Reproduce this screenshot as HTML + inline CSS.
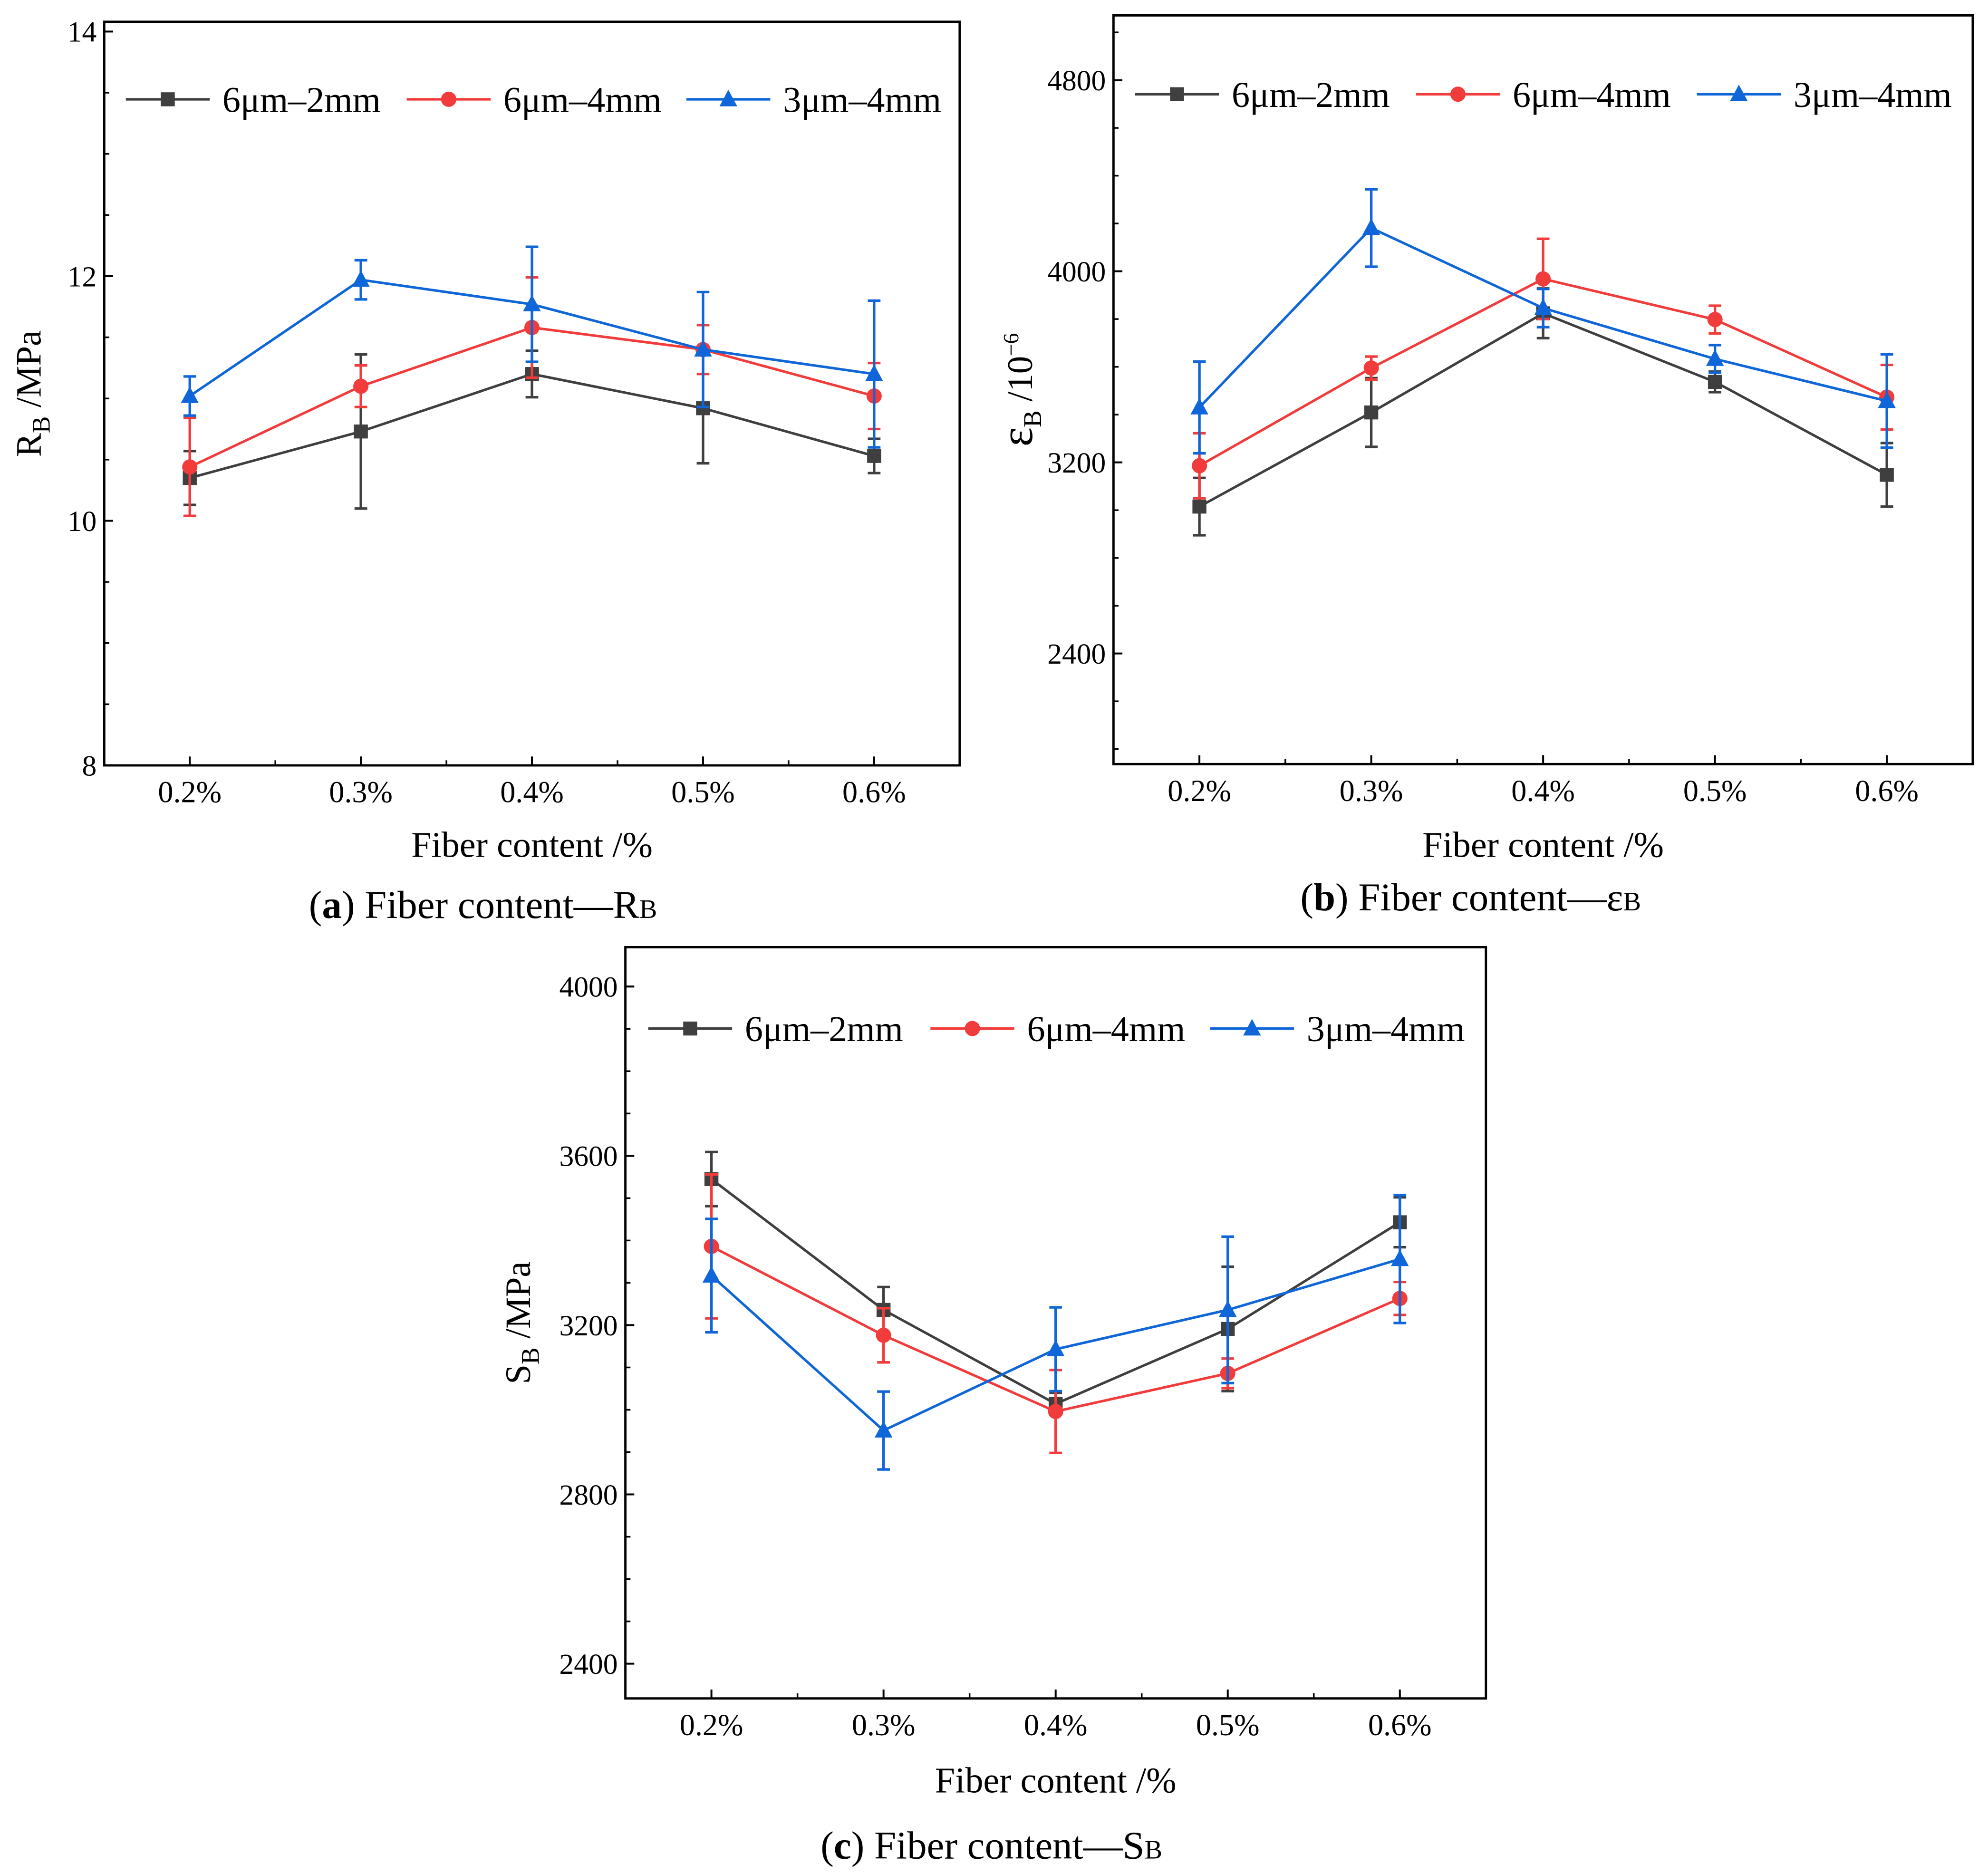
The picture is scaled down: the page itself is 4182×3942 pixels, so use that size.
<!DOCTYPE html>
<html><head><meta charset="utf-8"><style>
html,body{margin:0;padding:0;background:#fff;}
svg{display:block;font-family:"Liberation Serif",serif;}
</style></head>
<body>
<svg id="fig" width="4182" height="3942" viewBox="0 0 1564 1474" xmlns="http://www.w3.org/2000/svg">
<rect width="1564" height="1474" fill="#fff"/>
</svg>
<script>
const categories = ["0.2%","0.3%","0.4%","0.5%","0.6%"];
const seriesNames = ["6μm–2mm","6μm–4mm","3μm–4mm"];
const colors = ["#3f3f3f","#f23c3c","#0f66d8"];
// Panel a: R_B (MPa)
const aVals = [[10.35,10.73,11.2,10.92,10.53],[10.44,11.1,11.58,11.4,11.02],[11.02,11.97,11.77,11.4,11.2]];
const aErr = [[0.22,0.63,0.19,0.45,0.14],[0.4,0.17,0.41,0.2,0.27],[0.16,0.16,0.47,0.47,0.6]];
const aTicks = [8,10,12,14];
// Panel b: eps_B (1e-6)
const bVals = [[3015,3409,3824,3537,3148],[3186,3595,3968,3798,3473],[3430,4181,3846,3633,3457]];
const bErr = [[120,144,104,43,133],[136,48,168,58,135],[192,162,80,58,195]];
const bTicks = [2400,3200,4000,4800];
// Panel c: S_B (MPa)
const cVals = [[3545,3236,3014,3191,3443],[3386,3176,2996,3086,3263],[3317,2951,3143,3236,3356]];
const cErr = [[64,54,26,147,59],[170,64,98,35,39],[134,92,99,173,151]];
const cTicks = [2400,2800,3200,3600,4000];

const NS="http://www.w3.org/2000/svg";
const svg=document.getElementById('fig');
function el(tag,attrs,parent){const e=document.createElementNS(NS,tag);for(const k in attrs)e.setAttribute(k,attrs[k]);(parent||svg).appendChild(e);return e;}

function panel(id,box,yMin,yMax,ticks,minorStep,vals,errs,legendY,legendX,yTitle,xTitleY,caption,capX,capY,yTitleX){
  const g=el('g',{});
  
  
  const [L,T,R,B]=box;
  const xs=i=>L+(R-L)*(0.1+0.2*i);
  const ys=v=>B-(v-yMin)/(yMax-yMin)*(B-T);
  const frame=el('rect',{x:L,y:T,width:R-L,height:B-T,fill:'none',stroke:'#000','stroke-width':1.8},g);
  
  
  for(const t of ticks){
    el('line',{x1:L,x2:L+7,y1:ys(t),y2:ys(t),stroke:'#000','stroke-width':1.5},g);
    const tx=el('text',{x:L-6,y:ys(t)+8,'text-anchor':'end','font-size':23},g);
    tx.textContent=t;
    
    
  }
  for(let v=Math.ceil(yMin/minorStep)*minorStep; v<=yMax; v+=minorStep){
    el('line',{x1:L,x2:L+4,y1:ys(v),y2:ys(v),stroke:'#000','stroke-width':1.3},g);
  }
  categories.forEach((c,i)=>{
    el('line',{x1:xs(i),x2:xs(i),y1:B,y2:B-7,stroke:'#000','stroke-width':1.5},g);
    if(i<4) el('line',{x1:xs(i+0.5),x2:xs(i+0.5),y1:B,y2:B-4,stroke:'#000','stroke-width':1.3},g);
    const tx=el('text',{x:xs(i),y:B+29,'text-anchor':'middle','font-size':24},g);
    tx.textContent=c;
    
    
  });
  vals.forEach((sv,s)=>{
    const col=colors[s];
    const sg=el('g',{},g);
    
    
    el('polyline',{points:sv.map((v,i)=>xs(i)+','+ys(v)).join(' '),fill:'none',stroke:col,'stroke-width':2},sg);
    sv.forEach((v,i)=>{
      const e=errs[s][i];
      el('line',{x1:xs(i),x2:xs(i),y1:ys(v-e),y2:ys(v+e),stroke:col,'stroke-width':2},sg);
      el('line',{x1:xs(i)-5,x2:xs(i)+5,y1:ys(v-e),y2:ys(v-e),stroke:col,'stroke-width':2},sg);
      el('line',{x1:xs(i)-5,x2:xs(i)+5,y1:ys(v+e),y2:ys(v+e),stroke:col,'stroke-width':2},sg);
      marker(s,xs(i),ys(v),sg);
    });
  });
  seriesNames.forEach((n,s)=>{
    const lx=legendX[s];
    const lg=el('g',{},g);
    
    
    el('line',{x1:lx,x2:lx+66,y1:legendY,y2:legendY,stroke:colors[s],'stroke-width':2},lg);
    marker(s,lx+33,legendY,lg);
    const t=el('text',{x:lx+76,y:legendY+10,'font-size':28.5},lg);
    t.textContent=n;
  });
  const xt=el('text',{x:(L+R)/2,y:xTitleY,'text-anchor':'middle','font-size':28.5},g);
  xt.textContent='Fiber content /%';
  
  
  const yt=el('text',{x:0,y:0,'text-anchor':'middle','font-size':28,transform:`translate(${yTitleX},${(T+B)/2}) rotate(-90)`},g);
  yt.innerHTML=yTitle;
  
  
  const ct=el('text',{x:capX,y:capY,'text-anchor':'middle','font-size':31},g);
  ct.innerHTML=caption;
  
  
}
function marker(s,x,y,p){
  const c=colors[s];
  if(s===0) el('rect',{x:x-5.5,y:y-5.5,width:11,height:11,fill:c},p);
  else if(s===1) el('circle',{cx:x,cy:y,r:6,fill:c},p);
  else el('polygon',{points:`${x},${y-7.5} ${x-7},${y+5.5} ${x+7},${y+5.5}`,fill:c},p);
}
panel('a',[82,17,755,602],8,14.08,aTicks,0.5,aVals,aErr,78,[99,320,540],
  'R<tspan font-size="20" dy="7">B</tspan><tspan dy="-7"> /MPa</tspan>',674,
  '(<tspan font-weight="bold">a</tspan>) Fiber content—R<tspan font-size="21">B</tspan>',380,722,32);
panel('b',[876,12,1552,601],1937,5071,bTicks,200,bVals,bErr,74,[893,1114,1335],
  '<tspan font-size="36">ε</tspan><tspan font-size="20" dy="7">B</tspan><tspan dy="-7"> /10</tspan><tspan font-size="17" dy="-11">−6</tspan>',674,
  '(<tspan font-weight="bold">b</tspan>) Fiber content—ε<tspan font-size="21">B</tspan>',1157,716,812);
panel('c',[492,745,1169,1336],2318,4093,cTicks,100,cVals,cErr,809,[510,732,952],
  'S<tspan font-size="20" dy="7">B</tspan><tspan dy="-7"> /MPa</tspan>',1410,
  '(<tspan font-weight="bold">c</tspan>) Fiber content—S<tspan font-size="21">B</tspan>',780,1462,417);
</script>
</body></html>
